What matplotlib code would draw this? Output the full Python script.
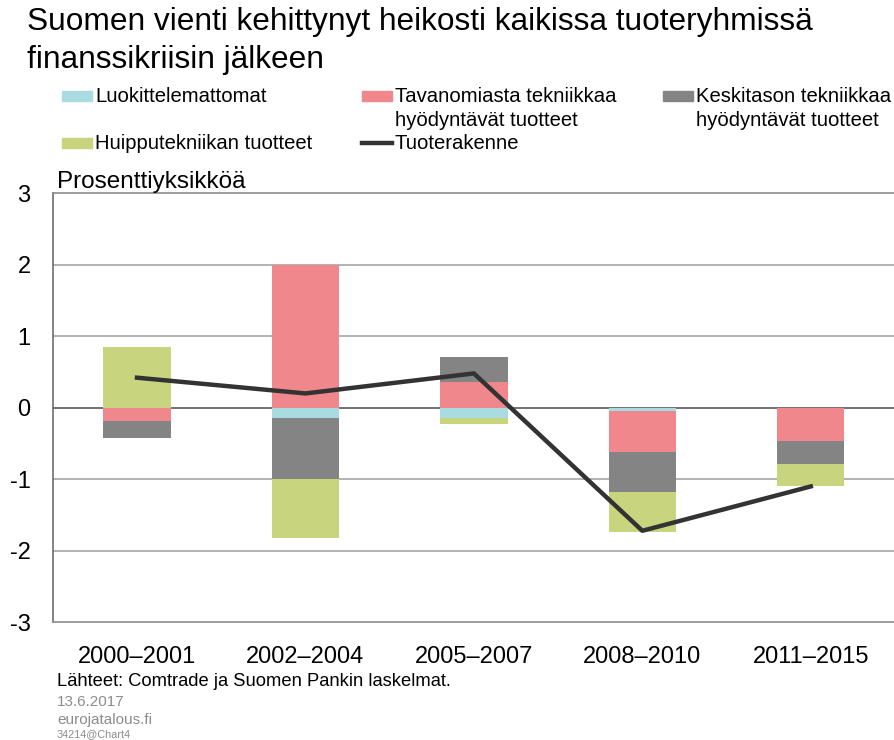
import numpy as np
import matplotlib
matplotlib.use('Agg')
import matplotlib.pyplot as plt
from matplotlib.patches import Rectangle
from matplotlib.lines import Line2D

matplotlib.rc('font', family=['Liberation Sans', 'DejaVu Sans'])

periods = ['2000–2001', '2002–2004', '2005–2007', '2008–2010', '2011–2015']
luokittelemattomat = [0.0, -0.15, -0.14, -0.05, 0.0]
tavanomainen = [-0.18, 2.0, 0.36, -0.57, -0.46]
keskitaso = [-0.25, -0.85, 0.35, -0.56, -0.33]
huipputekniikka = [0.85, -0.82, -0.09, -0.56, -0.31]
tuoterakenne = [0.42, 0.2, 0.48, -1.72, -1.1]

names = ['Luokittelemattomat', 'Tavanomiasta tekniikkaa\nhyödyntävät tuotteet',
         'Keskitason tekniikkaa\nhyödyntävät tuotteet', 'Huipputekniikan tuotteet']
colors = ['#a8dce0', '#f0878d', '#848484', '#c8d47e']
line_color = '#333333'
grey_txt = '#8c8c8c'

W, H = 895, 740
fig = plt.figure(figsize=(W / 100, H / 100), dpi=100)
ax = fig.add_axes([0.059, 0.159, 0.941, 0.58])

x = np.arange(len(periods))
pos_base = np.zeros(len(periods))
neg_base = np.zeros(len(periods))
for vals, c in zip([luokittelemattomat, tavanomainen, keskitaso, huipputekniikka], colors):
    v = np.array(vals)
    base = np.where(v >= 0, pos_base, neg_base)
    ax.bar(x, v, 0.4, bottom=base, color=c, zorder=2)
    pos_base += np.where(v >= 0, v, 0)
    neg_base += np.where(v < 0, v, 0)

ax.plot(x, tuoterakenne, color=line_color, lw=3.2, zorder=3)

ax.set_xlim(-0.5, len(periods) - 0.5)
ax.set_ylim(-3, 3)
ax.set_yticks(range(-3, 4))
ax.set_yticklabels([str(v) for v in range(-3, 4)])
ax.set_xticks(x)
ax.set_xticklabels(periods)
ax.tick_params(axis='both', length=0, labelsize=17)
ax.tick_params(axis='x', pad=17)
ax.tick_params(axis='y', pad=16)
for v in [-2, -1, 1, 2]:
    ax.axhline(v, color='#a6a6a6', lw=1.2, zorder=1)
ax.axhline(0, color='#5a5a5a', lw=1.2, zorder=1)
for s in ['top', 'bottom']:
    ax.spines[s].set_color('#8c8c8c')
    ax.spines[s].set_linewidth(1.2)
ax.spines['left'].set_color('#6e6e6e')
ax.spines['left'].set_linewidth(1.2)
ax.spines['right'].set_visible(False)

# title
fig.text(27 / W, 1 - 22 / H, 'Suomen vienti kehittynyt heikosti kaikissa tuoteryhmissä',
         fontsize=22.8, va='center', ha='left')
fig.text(27 / W, 1 - 60 / H, 'finanssikriisin jälkeen',
         fontsize=22.8, va='center', ha='left')

# legend
legend_slots = [(62, 96), (362, 96), (663, 96), (62, 143)]
for (px, py), name, c in zip(legend_slots, names, colors):
    fig.patches.append(Rectangle((px / W, 1 - (py + 5) / H), 30 / W, 10 / H,
                                 transform=fig.transFigure, color=c, figure=fig))
    fig.text((px + 33) / W, 1 - (py - 9) / H, name, fontsize=14.6,
             va='top', ha='left', linespacing=1.35)
fig.lines.append(Line2D([362 / W, 392 / W], [1 - 143 / H, 1 - 143 / H], color=line_color,
                        lw=3.2, transform=fig.transFigure, figure=fig))
fig.text(395 / W, 1 - 134 / H, 'Tuoterakenne', fontsize=14.6, va='top', ha='left')

fig.text(57 / W, 1 - 182 / H, 'Prosenttiyksikköä', fontsize=17.5, va='center', ha='left')

# footer
fig.text(57 / W, 1 - 681 / H, 'Lähteet: Comtrade ja Suomen Pankin laskelmat.',
         fontsize=13.2, va='center', ha='left')
fig.text(57 / W, 1 - 702 / H, '13.6.2017', fontsize=11, color=grey_txt, va='center', ha='left')
fig.text(57 / W, 1 - 720 / H, 'eurojatalous.fi', fontsize=11, color=grey_txt, va='center', ha='left')
fig.text(57 / W, 1 - 734 / H, '34214@Chart4', fontsize=7.8, color=grey_txt, va='center', ha='left')

fig.savefig('out.png', dpi=100)
